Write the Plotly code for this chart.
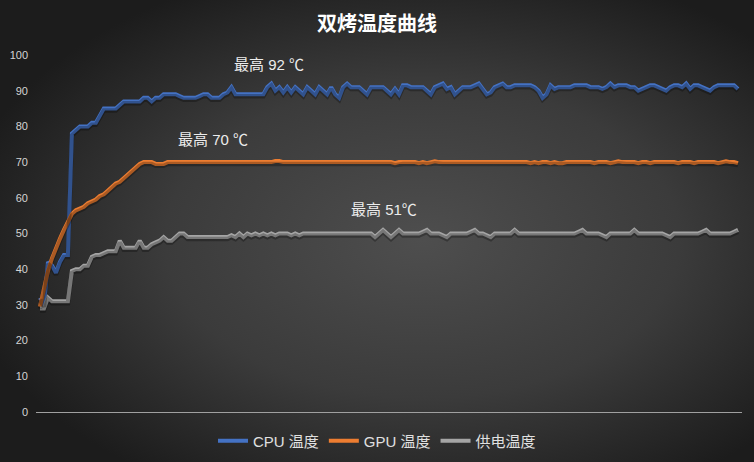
import base64
import plotly.graph_objects as go

title_text = "双烤温度曲线"
series_names = ["CPU 温度", "GPU 温度", "供电温度"]
y_ticks = [0, 10, 20, 30, 40, 50, 60, 70, 80, 90, 100]

cpu_temp = [
    32, 30, 42, 41, 39, 42, 44, 44, 78, 79, 80, 80, 80, 81, 81, 83, 85, 85, 85, 85,
    86, 87, 87, 87, 87, 87, 88, 88, 87, 88, 88, 89, 89, 89, 89, 88.5, 88, 88, 88, 88,
    88.5, 89, 89, 88, 88, 88, 89, 89.5, 91, 89, 89, 89, 89, 89, 89, 89, 89, 91, 92, 90,
    91, 89.5, 91, 89.5, 91, 90, 89, 91, 90, 89, 91, 90, 89, 91, 89, 88, 91, 92, 91, 91,
    91, 90, 89, 91, 91, 91, 91, 90, 89, 90.5, 89, 91.5, 91.5, 91, 91, 91, 91, 90, 89, 91,
    91.5, 92, 90.5, 91, 89, 90, 91, 91, 91, 91.5, 92, 90.5, 89, 89.5, 91, 91.5, 92, 91, 91, 91.5,
    91.5, 91.5, 91.5, 91.5, 91, 90, 88, 89, 91.5, 90.5, 91, 91, 91, 91, 91.5, 91.5, 91.5, 91.5, 91, 91,
    91, 90.5, 91, 92, 91, 91.5, 91.5, 91.5, 91, 91, 90, 90.5, 91, 91.5, 91.5, 91, 90.5, 90, 91, 91.5,
    91.5, 91, 92, 90.5, 91.5, 91.5, 91, 90.5, 90, 91, 91.5, 91.5, 91.5, 91.5, 91.5, 90.5,
]

gpu_temp = [
    29.5, 35, 39.5, 43, 46, 48.5, 51, 53.5, 55.5, 56.5, 57, 57.5, 58.5, 59, 59.5, 60.5, 61, 62, 63, 64,
    64.5, 65.5, 66.5, 67.5, 68.5, 69.5, 70, 70, 70, 69.5, 69.5, 69.5, 70, 70, 70, 70, 70, 70, 70, 70,
    70, 70, 70, 70, 70.2, 70, 70, 70.2, 70, 70, 70, 70, 70, 70, 70.2, 70, 70, 70, 70, 70.3,
    70.3, 70, 70, 70, 70, 70, 70, 70, 70, 70, 70, 70, 70, 70, 70, 70, 70, 70, 70, 70,
    70, 70, 70, 70, 70, 70, 70, 70, 70, 69.7, 70, 70, 70, 70, 70, 69.7, 70, 69.7, 70, 70.2,
    70, 70, 70, 70, 70, 70, 70, 70, 70, 70, 70, 70, 70, 70, 70, 70, 70, 70, 70, 70,
    70, 70, 70, 69.7, 70, 69.7, 70, 70, 69.7, 70, 69.7, 69.7, 70, 70, 70, 70, 70, 70, 70, 69.7,
    70, 70, 70, 69.7, 70, 70.2, 70, 70, 70, 70, 69.7, 70, 70, 69.7, 70, 70, 70, 70, 70, 70,
    69.7, 70, 70, 70, 69.7, 70, 70, 70, 70, 70, 69.7, 70, 70.2, 70, 70, 69.7,
]

vrm_temp = [
    29, 29, 32, 31, 31, 31, 31, 31, 39.5, 40, 40, 41, 41, 43.5, 44, 44, 44.5, 45, 45, 45,
    48, 46, 46, 46, 46, 48, 46, 46, 47, 47.5, 48, 49, 48, 48, 49, 50, 50, 49, 49, 49,
    49, 49, 49, 49, 49, 49, 49, 49, 49.5, 49, 50, 49, 50, 49.5, 50, 49.5, 50, 49.5, 50, 49.5,
    50, 50, 50, 49.5, 50, 49.5, 50, 50, 50, 50, 50, 50, 50, 50, 50, 50, 50, 50, 50, 50,
    50, 50, 50, 50, 49, 50, 51, 50, 49, 50, 51, 50, 50, 50, 50, 50, 50.5, 51, 50, 50,
    50, 49.5, 49, 50, 50, 50, 50, 50, 50.5, 51, 50, 50, 49.5, 49, 50, 50, 50, 50, 50, 51,
    50, 50, 50, 50, 50, 50, 50, 50, 50, 50, 50, 50, 50, 50, 50, 50.5, 51, 50, 50, 50,
    50, 49.5, 49, 50, 50, 50, 50, 50, 50, 51, 50, 50, 50, 50, 50, 50, 50, 49.5, 49, 50,
    50, 50, 50, 50, 50, 50, 50.5, 51, 50, 50, 50, 50, 50, 50, 50.5, 51,
]

peak_labels = ["最高 92 ℃", "最高 70 ℃", "最高 51℃"]
peak_pos_x = [57.4, 43.4, 86.2]
peak_pos_y = [97.4, 76.2, 56.6]

colors = ["#4472C4", "#ED7D31", "#A5A5A5"]

W, H = 754, 462
L, R, T, B = 36, 12, 55, 50
pw, ph = W - L - R, H - T - B
n = len(cpu_temp)
x = list(range(n))
# first point at px 40, last at px 738
ppu = (738 - 40) / (n - 1)
x0 = -(40 - L) / ppu
x1 = (n - 1) + (L + pw - 738) / ppu

svg = f"""<svg xmlns='http://www.w3.org/2000/svg' width='{W}' height='{H}' viewBox='0 0 {W} {H}' preserveAspectRatio='none'>
<defs><radialGradient id='g' cx='0.56' cy='0.52' r='0.62' gradientUnits='objectBoundingBox'>
<stop offset='0' stop-color='#4e4e4e'/><stop offset='0.55' stop-color='#3b3b3b'/><stop offset='1' stop-color='#1c1c1c'/>
</radialGradient></defs><rect width='{W}' height='{H}' fill='url(#g)'/></svg>"""
bg_src = "data:image/svg+xml;base64," + base64.b64encode(svg.encode()).decode()

fig = go.Figure()

series = [cpu_temp, gpu_temp, vrm_temp]
# shadows
for s in series:
    fig.add_trace(go.Scatter(x=x, y=s, mode="lines", yaxis="y2", showlegend=False,
                             hoverinfo="skip",
                             line=dict(color="rgba(0,0,0,0.28)", width=4.5)))
for s, name, c in zip(series, series_names, colors):
    fig.add_trace(go.Scatter(x=x, y=s, mode="lines", name=name,
                             line=dict(color=c, width=4)))

for txt, ax, ay in zip(peak_labels, peak_pos_x, peak_pos_y):
    fig.add_annotation(x=ax, y=ay, text=txt, showarrow=False,
                       font=dict(family="Liberation Sans, Noto Sans CJK SC", size=15, color="#ececec"))

fig.update_layout(
    width=W, height=H,
    margin=dict(l=L, r=R, t=T, b=B, pad=0, autoexpand=False),
    paper_bgcolor="#2e2e2e",
    plot_bgcolor="rgba(0,0,0,0)",
    images=[dict(source=bg_src, xref="paper", yref="paper",
                 x=-L / pw, y=1 + T / ph, sizex=W / pw, sizey=H / ph,
                 xanchor="left", yanchor="top", sizing="stretch", layer="below")],
    title=dict(text="<b>" + title_text + "</b>", x=0.5, xref="container", y=1 - 24 / H, yanchor="middle",
               xanchor="center",
               font=dict(family="Noto Sans CJK SC", size=20, color="#ffffff")),
    xaxis=dict(range=[x0, x1], showgrid=False, zeroline=False, showticklabels=False,
               showline=True, linecolor="#a0a0a0", linewidth=1, ticks="", automargin=False),
    yaxis=dict(range=[0, 100], tickvals=y_ticks, showgrid=False, zeroline=False,
               showline=False, ticks="", ticklabelstandoff=7, automargin=False,
               tickfont=dict(family="Liberation Sans", size=11, color="#d4d4d4")),
    yaxis2=dict(range=[0.55, 100.55], overlaying="y", visible=False),
    legend=dict(orientation="h", x=0.5 - (L - R) / 2 / pw, xanchor="center", y=-29 / ph, yanchor="middle",
                font=dict(family="Liberation Sans, Noto Sans CJK SC", size=15, color="#e0e0e0"),
                bgcolor="rgba(0,0,0,0)", itemwidth=30, tracegroupgap=0),
    showlegend=True,
)

fig.write_html("out.html", config={"displayModeBar": False},
               post_script="document.body.style.margin='0';document.body.style.background='#2e2e2e';")
